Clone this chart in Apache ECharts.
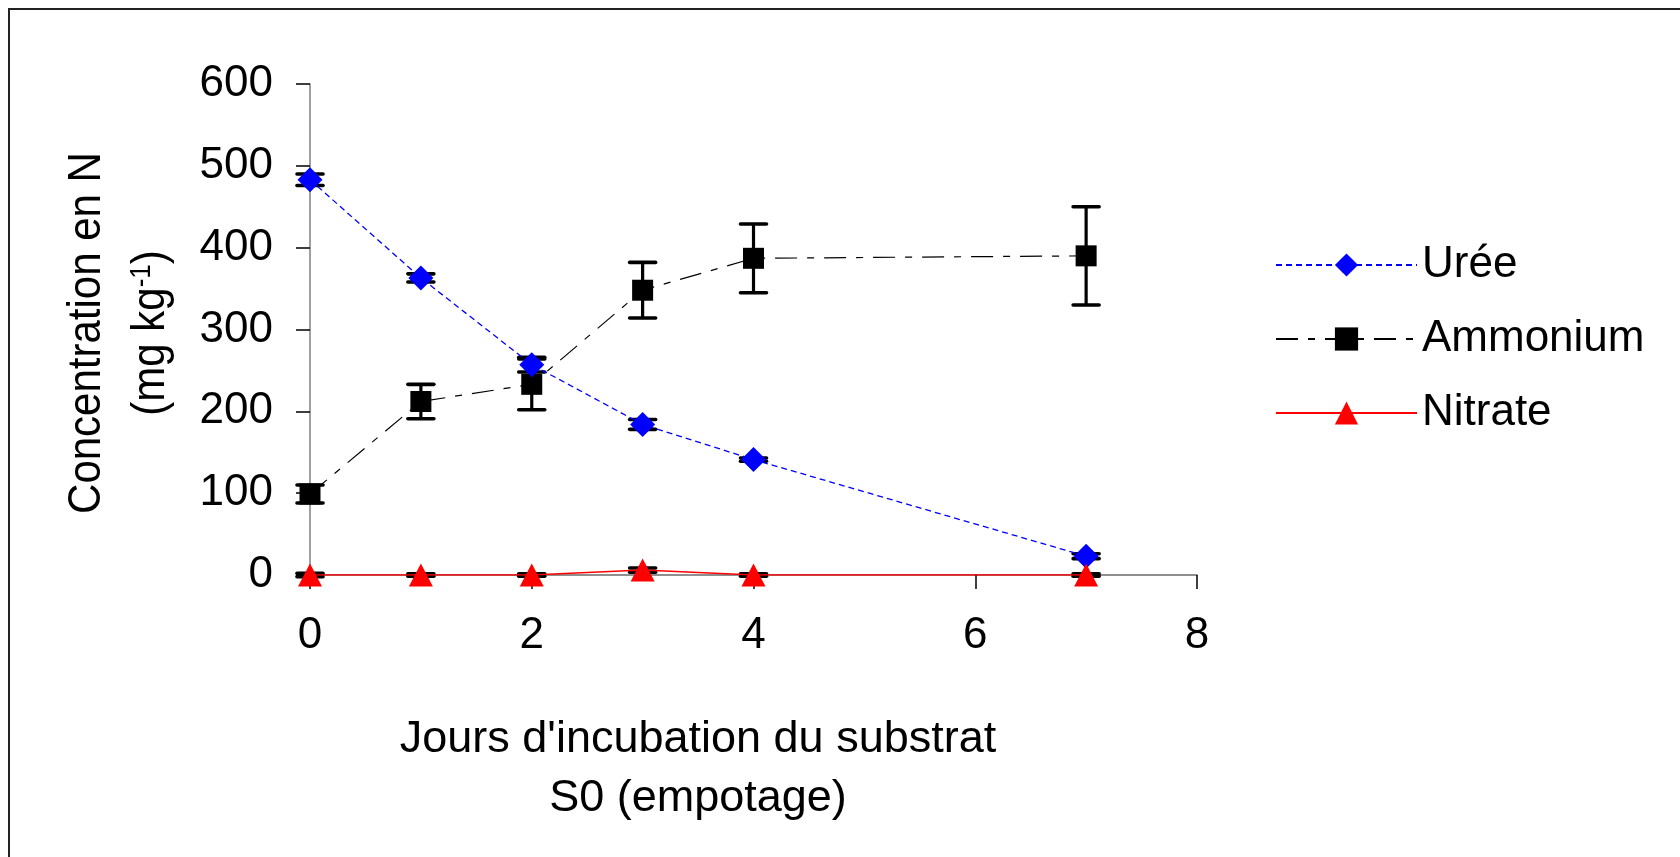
<!DOCTYPE html>
<html><head><meta charset="utf-8">
<script src="https://cdn.jsdelivr.net/npm/echarts@6/dist/echarts.min.js"></script>
<style>html,body{margin:0;padding:0;background:#fff}#chart{width:1680px;height:857px}</style>
</head><body><div id="chart"></div>
<script>
// ---- data ----
const days = [0, 1, 2, 3, 4, 7];
const ureeValues = [483, 363, 257, 184, 141, 23];
const ureeErrors = [7, 5, 9, 6, 2, 3];
const ammoniumValues = [99, 212, 233, 348, 387, 390];
const ammoniumErrors = [11, 21, 31, 34, 42, 60];
const nitrateValues = [0, 0, 0, 6, 0, 0];
const nitrateErrors = [2, 1.5, 1.5, 2.5, 1.5, 1.5];
const xAxisRange = [0, 8, 2];     // min, max, interval
const yAxisRange = [0, 600, 100]; // min, max, interval
const seriesNames = ['Urée', 'Ammonium', 'Nitrate'];
const xTitleLines = ["Jours d'incubation du substrat", 'S0 (empotage)'];
const yTitleLine1 = 'Concentration en N';
const yTitleUnit = ['(mg kg', '-1', ')'];

const FONT = '"Liberation Sans", Arial, sans-serif';

function pairs(vals) { return days.map((d, i) => [d, vals[i]]); }
function errData(vals, errs) { return days.map((d, i) => [d, vals[i] - errs[i], vals[i] + errs[i]]); }

function renderErr(params, api) {
  const x = api.value(0), lo = api.value(1), hi = api.value(2);
  const t = api.coord([x, hi]), b = api.coord([x, lo]);
  const hw = 13;
  const st = { stroke: '#000', lineWidth: 3.6, lineCap: 'round' };
  return { type: 'group', children: [
    { type: 'line', shape: { x1: t[0], y1: t[1], x2: b[0], y2: b[1] }, style: { stroke: '#000', lineWidth: 3.2 } },
    { type: 'line', shape: { x1: t[0] - hw, y1: t[1], x2: t[0] + hw, y2: t[1] }, style: st },
    { type: 'line', shape: { x1: b[0] - hw, y1: b[1], x2: b[0] + hw, y2: b[1] }, style: st }
  ]};
}

const chart = echarts.init(document.getElementById('chart'), null, { renderer: 'canvas' });
const option = {
  backgroundColor: '#fff',
  animation: false,
  textStyle: { fontFamily: FONT },
  grid: { left: 310, right: 483, top: 84, bottom: 282, containLabel: false, outerBoundsMode: 'none' },
  xAxis: {
    type: 'value', min: xAxisRange[0], max: xAxisRange[1], interval: xAxisRange[2],
    splitLine: { show: false },
    axisLine: { onZero: false, lineStyle: { color: '#6b6b6b', width: 1.5 } },
    axisTick: { inside: false, length: 14, lineStyle: { color: '#000', width: 1.5 } },
    axisLabel: { color: '#000', fontSize: 44, fontFamily: FONT, margin: 39 }
  },
  yAxis: {
    type: 'value', min: yAxisRange[0], max: yAxisRange[1], interval: yAxisRange[2],
    splitLine: { show: false },
    axisLine: { show: true, lineStyle: { color: '#808080', width: 1.5 } },
    axisTick: { show: true, inside: false, length: 14, lineStyle: { color: '#000', width: 1.5 } },
    axisLabel: { color: '#000', fontSize: 44, fontFamily: FONT, margin: 37 }
  },
  legend: {
    orient: 'vertical', left: 1270, top: 238,
    itemWidth: 141, itemHeight: 29, itemGap: 30,
    data: seriesNames,
    textStyle: { color: '#000', fontSize: 44, fontFamily: FONT }
  },
  graphic: [
    { type: 'rect', shape: { x: 9, y: 9, width: 1700, height: 900 }, style: { fill: 'none', stroke: '#222', lineWidth: 2 }, silent: true, z: 0 },
    { type: 'text', x: 698, y: 769, silent: true,
      style: { text: xTitleLines.join('\n'), font: '45px ' + FONT, fill: '#000', align: 'center', verticalAlign: 'middle', lineHeight: 59 } },
    { type: 'text', x: 119, y: 333, rotation: Math.PI / 2, scaleY: 1.1, silent: true,
      style: { text: yTitleLine1 + '\n' + yTitleUnit[0] + '{sup|' + yTitleUnit[1] + '}' + yTitleUnit[2],
        fontSize: 42, fontFamily: FONT, fill: '#000', align: 'center', verticalAlign: 'middle', lineHeight: 58,
        rich: { sup: { fontSize: 26, fontFamily: FONT, fill: '#000', lineHeight: 26, verticalAlign: 'top', padding: [8, 0, 0, 0] } } } }
  ],
  series: [
    { type: 'custom', name: 'errU', data: errData(ureeValues, ureeErrors), renderItem: renderErr, encode: { x: 0, y: [1, 2] }, z: 1, silent: true },
    { type: 'custom', name: 'errA', data: errData(ammoniumValues, ammoniumErrors), renderItem: renderErr, encode: { x: 0, y: [1, 2] }, z: 1, silent: true },
    { type: 'custom', name: 'errN', data: errData(nitrateValues, nitrateErrors), renderItem: renderErr, encode: { x: 0, y: [1, 2] }, z: 1, silent: true },
    { type: 'line', name: seriesNames[1], data: pairs(ammoniumValues), z: 3,
      symbol: 'rect', symbolSize: 21,
      itemStyle: { color: '#000' },
      lineStyle: { color: '#000', width: 1.2, type: [22, 10, 7, 10] } },
    { type: 'line', name: seriesNames[0], data: pairs(ureeValues), z: 4,
      symbol: 'diamond', symbolSize: [25, 25],
      itemStyle: { color: '#0000FF' },
      lineStyle: { color: '#0000FF', width: 1.3, type: [6, 4] } },
    { type: 'line', name: seriesNames[2], data: pairs(nitrateValues), z: 5,
      symbol: 'triangle', symbolSize: [24, 23],
      itemStyle: { color: '#FF0000' },
      lineStyle: { color: '#FF0000', width: 1.5, type: 'solid' } }
  ]
};
chart.setOption(option);
</script></body></html>
